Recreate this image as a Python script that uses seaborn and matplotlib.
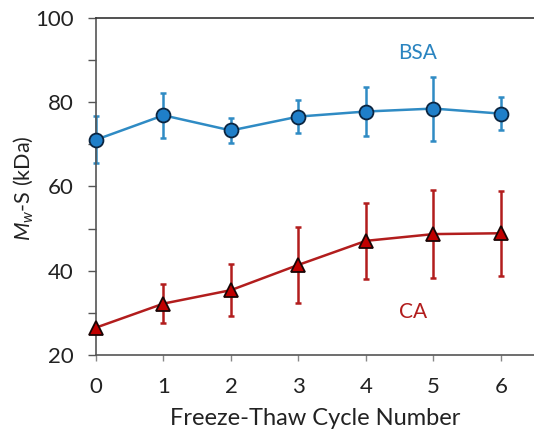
import matplotlib
matplotlib.use("Agg")
import matplotlib.pyplot as plt
import seaborn as sns
import pandas as pd
from matplotlib.ticker import MultipleLocator

cycles = [0, 1, 2, 3, 4, 5, 6]
bsa_mean = [71.1, 76.9, 73.3, 76.6, 77.8, 78.5, 77.3]
bsa_err = [5.6, 5.4, 2.9, 3.9, 5.8, 7.6, 3.9]
ca_mean = [26.5, 32.2, 35.4, 41.4, 47.1, 48.7, 48.9]
ca_err = [0.5, 4.7, 6.2, 9.0, 9.1, 10.4, 10.1]

sns.set_style("ticks")
plt.rcParams['font.family'] = ['Lato', 'DejaVu Sans']
plt.rcParams['mathtext.fontset'] = 'custom'
plt.rcParams['mathtext.rm'] = 'Lato'
plt.rcParams['mathtext.it'] = 'Lato:italic'

blue_line = "#2f8bc4"
blue_face = "#1f7fc9"
red_line = "#b21d1d"
red_face = "#c00000"

fig = plt.figure(figsize=(5.34, 4.34), dpi=100)
ax = fig.add_axes([96/534, 79/434, 1 - 96/534, 337/434])

df_bsa = pd.DataFrame({"cycle": cycles, "mw": bsa_mean})
df_ca = pd.DataFrame({"cycle": cycles, "mw": ca_mean})

ax.errorbar(cycles, bsa_mean, yerr=bsa_err, fmt="none", ecolor=blue_line,
            elinewidth=1.8, capsize=2.5, capthick=1.8, zorder=2, clip_on=False)
ax.errorbar(cycles, ca_mean, yerr=ca_err, fmt="none", ecolor=red_line,
            elinewidth=1.8, capsize=2.5, capthick=1.8, zorder=2, clip_on=False)

sns.lineplot(data=df_bsa, x="cycle", y="mw", ax=ax, color=blue_line, lw=1.8,
             marker="o", markersize=10, markerfacecolor=blue_face,
             markeredgecolor="#0b2540", markeredgewidth=1.3, zorder=3, clip_on=False)
sns.lineplot(data=df_ca, x="cycle", y="mw", ax=ax, color=red_line, lw=1.8,
             marker="^", markersize=10.5, markerfacecolor=red_face,
             markeredgecolor="#1a0505", markeredgewidth=1.3, zorder=3, clip_on=False)

ax.set_xlim(0, 6.49)
ax.set_ylim(20, 100)
ax.set_xticks(cycles)
ax.yaxis.set_major_locator(MultipleLocator(20))
ax.yaxis.set_minor_locator(MultipleLocator(10))

ax.spines["right"].set_visible(False)
for s in ["left", "bottom", "top"]:
    ax.spines[s].set_color("#555555")
    ax.spines[s].set_linewidth(1.2)
ax.spines["top"].set_color("#333333")

ax.tick_params(axis="y", which="both", direction="out", length=6, width=1.0,
               color="#555555", labelsize=16, labelcolor="#222222", pad=10)
ax.tick_params(axis="x", direction="out", length=4, width=1.0, color="#888888",
               labelsize=16, labelcolor="#222222", pad=12)

ax.set_xlabel("Freeze-Thaw Cycle Number", fontsize=17, color="#222222", labelpad=8)
ax.set_ylabel(r"$M_{w}$-S (kDa)", fontsize=15.5, color="#222222")
ax.yaxis.set_label_coords(-0.14, 0.495)

ax.text(4.77, 91.7, "BSA", color="#2a84c0", fontsize=15, ha="center", va="center")
ax.text(4.7, 30.3, "CA", color="#b21d1d", fontsize=15, ha="center", va="center")

fig.savefig("out.png", dpi=100)
